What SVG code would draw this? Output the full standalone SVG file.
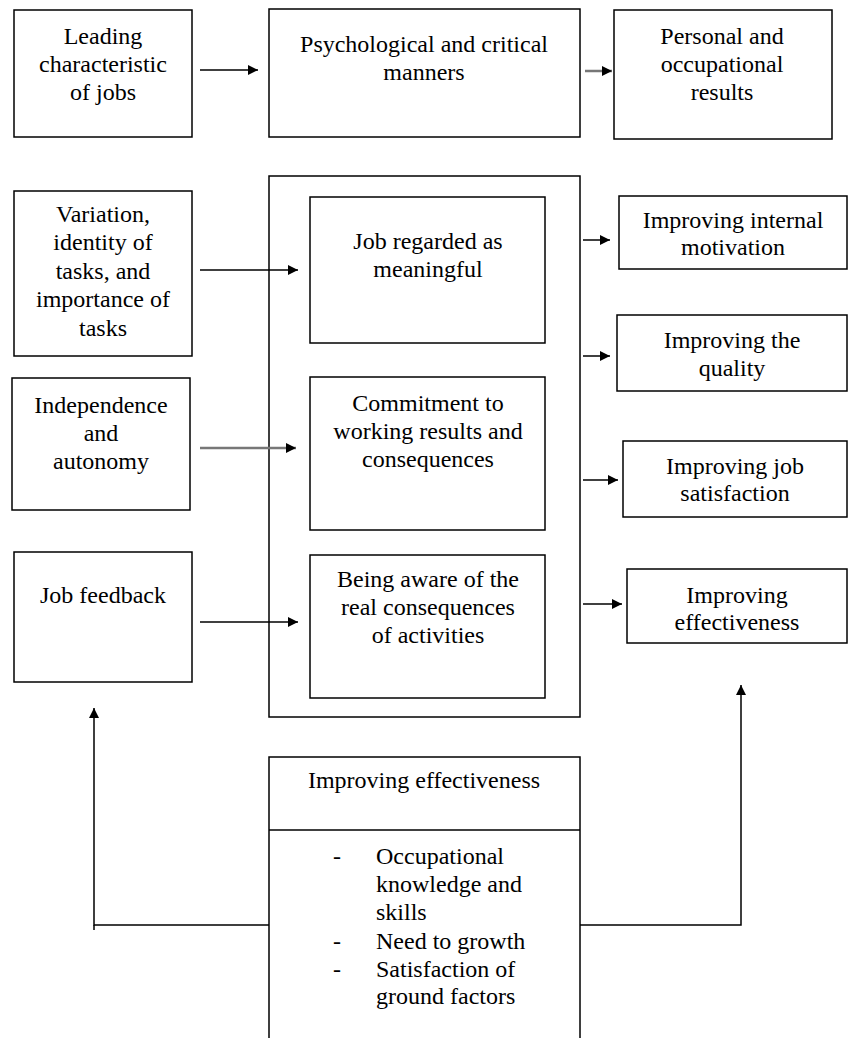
<svg xmlns="http://www.w3.org/2000/svg" width="848" height="1038" viewBox="0 0 848 1038" font-family="Liberation Serif, DejaVu Serif, Times New Roman, serif" font-size="24">
<defs>
<marker id="ah" viewBox="0 0 10 10" refX="10" refY="5" markerWidth="10" markerHeight="10" markerUnits="userSpaceOnUse" orient="auto"><path d="M0,0 L10,5 L0,10 z" fill="#000"/></marker>
<style>
rect{fill:#fff;stroke:#000;stroke-width:1.5}
text{fill:#000;text-anchor:middle}
text.l{text-anchor:start}
.c line,.c path{stroke:#000;stroke-width:1.5;fill:none}
.c .g{stroke:#777;stroke-width:2.5}
</style>
</defs>
<rect x="0" y="0" width="848" height="1038" style="fill:#fff;stroke:none"/>

<g id="n-leading"><rect x="14" y="10" width="178" height="127"/>
<text x="103" y="44">Leading</text><text x="103" y="72">characteristic</text><text x="103" y="100">of jobs</text></g>

<g id="n-psych"><rect x="269" y="9" width="311" height="128"/>
<text x="424" y="52">Psychological and critical</text><text x="424" y="80">manners</text></g>

<g id="n-personal"><rect x="614" y="10" width="218" height="129"/>
<text x="722" y="44">Personal and</text><text x="722" y="72">occupational</text><text x="722" y="100">results</text></g>

<g id="n-container"><rect x="269" y="176" width="311" height="541"/></g>

<g id="n-variation"><rect x="14" y="191" width="178" height="165"/>
<text x="103" y="222">Variation,</text><text x="103" y="250">identity of</text><text x="103" y="279">tasks, and</text><text x="103" y="307">importance of</text><text x="103" y="336">tasks</text></g>

<g id="n-meaningful"><rect x="310" y="197" width="235" height="146"/>
<text x="428" y="249">Job regarded as</text><text x="428" y="277">meaningful</text></g>

<g id="n-motivation"><rect x="619" y="196" width="228" height="73"/>
<text x="733" y="228">Improving internal</text><text x="733" y="255">motivation</text></g>

<g id="n-quality"><rect x="617" y="315" width="230" height="76"/>
<text x="732" y="348">Improving the</text><text x="732" y="376">quality</text></g>

<g id="n-independence"><rect x="12" y="378" width="178" height="132"/>
<text x="101" y="413">Independence</text><text x="101" y="441">and</text><text x="101" y="469">autonomy</text></g>

<g id="n-commitment"><rect x="310" y="377" width="235" height="153"/>
<text x="428" y="411">Commitment to</text><text x="428" y="439">working results and</text><text x="428" y="467">consequences</text></g>

<g id="n-satisfaction"><rect x="623" y="441" width="224" height="76"/>
<text x="735" y="474">Improving job</text><text x="735" y="501">satisfaction</text></g>

<g id="n-feedback"><rect x="14" y="552" width="178" height="130"/>
<text x="103" y="603">Job feedback</text></g>

<g id="n-aware"><rect x="310" y="555" width="235" height="143"/>
<text x="428" y="587">Being aware of the</text><text x="428" y="615">real consequences</text><text x="428" y="643">of activities</text></g>

<g id="n-effectiveness-r"><rect x="627" y="569" width="220" height="74"/>
<text x="737" y="603">Improving</text><text x="737" y="630">effectiveness</text></g>

<g id="n-bottom"><rect x="269" y="757" width="311" height="300"/>
<line x1="269" y1="830" x2="580" y2="830" style="stroke:#000;stroke-width:1.5"/>
<text x="424" y="788">Improving effectiveness</text>
<text class="l" x="333" y="864">-</text><text class="l" x="376" y="864">Occupational</text>
<text class="l" x="376" y="892">knowledge and</text>
<text class="l" x="376" y="920">skills</text>
<text class="l" x="333" y="949">-</text><text class="l" x="376" y="949">Need to growth</text>
<text class="l" x="333" y="977">-</text><text class="l" x="376" y="977">Satisfaction of</text>
<text class="l" x="376" y="1004">ground factors</text></g>

<g id="connectors" class="c">
<line x1="200" y1="70" x2="258" y2="70" marker-end="url(#ah)"/>
<line x1="585" y1="71" x2="612" y2="71" class="g" marker-end="url(#ah)"/>
<line x1="200" y1="270" x2="298" y2="270" marker-end="url(#ah)"/>
<line x1="583" y1="240" x2="610" y2="240" marker-end="url(#ah)"/>
<line x1="583" y1="356" x2="610" y2="356" marker-end="url(#ah)"/>
<line x1="200" y1="448" x2="296" y2="448" class="g" marker-end="url(#ah)"/>
<line x1="583" y1="480" x2="618" y2="480" marker-end="url(#ah)"/>
<line x1="200" y1="622" x2="298" y2="622" marker-end="url(#ah)"/>
<line x1="583" y1="604" x2="622" y2="604" marker-end="url(#ah)"/>
<path d="M269,925 H94 V708" marker-end="url(#ah)"/>
<line x1="94" y1="925" x2="94" y2="930"/>
<path d="M580,925 H741 V685" marker-end="url(#ah)"/>
</g>
</svg>
